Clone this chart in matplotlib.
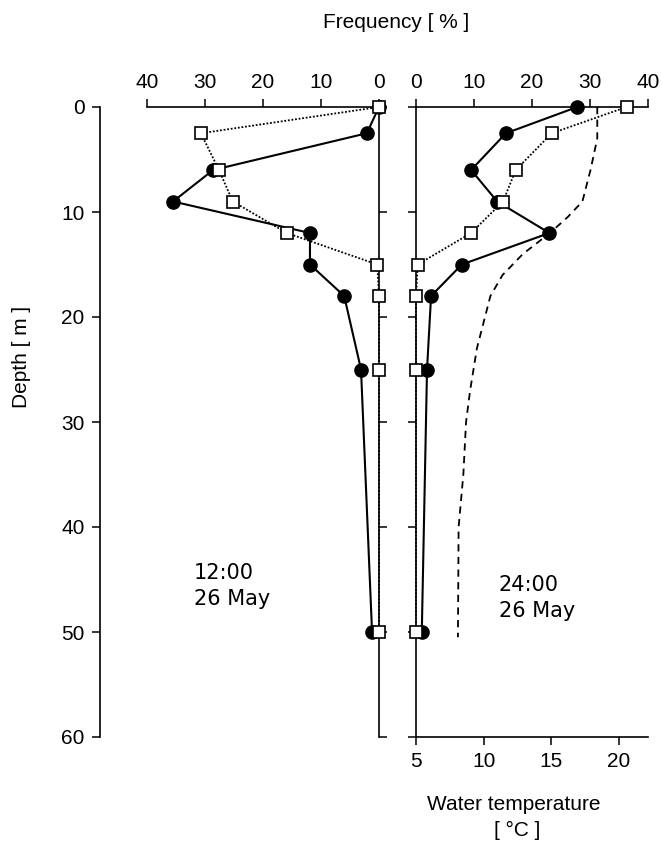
import matplotlib.pyplot as plt
import numpy as np

plt.rcParams['font.family'] = ['Liberation Sans', 'DejaVu Sans']

# sampling depths [m]
depth = [0, 2.5, 6, 9, 12, 15, 18, 25, 50]

# 12:00 26 May, frequency [%]
noon_circle = [0, 2.1, 28.6, 35.5, 11.9, 11.9, 6.0, 3.1, 1.2]
noon_square = [0, 30.7, 27.6, 25.2, 15.9, 0.3, 0, 0, 0]

# 24:00 26 May, frequency [%]
night_circle = [27.8, 15.5, 9.5, 14.0, 23.0, 7.9, 2.6, 1.9, 1.0]
night_square = [36.3, 23.4, 17.2, 15.0, 9.5, 0.3, 0, 0, 0]

# water temperature profile
temp_depth = [0, 3, 6, 9, 10.5, 12, 14, 16, 18, 20, 23, 27, 30, 35, 40, 50.5]
temp = [18.4, 18.4, 17.9, 17.3, 16.2, 14.9, 12.9, 11.4, 10.5, 10.1, 9.5, 9.0, 8.7, 8.5, 8.15, 8.1]

W, H = 662, 841
fig = plt.figure(figsize=(W/100, H/100), dpi=100)

bot = 1 - 737/H
hgt = (737 - 107)/H
axL = fig.add_axes([100/W, bot, 279/W, hgt])
axR = fig.add_axes([416/W, bot, 232/W, hgt])
axT = axR.twiny()

FS = 15
circ = dict(color='black', marker='o', markersize=9.5, linewidth=1.5, clip_on=False, zorder=3)
sq = dict(color='black', marker='s', markersize=8.5, markerfacecolor='white', markeredgewidth=1.2,
          linewidth=1.3, linestyle=(0, (1, 1)), clip_on=False, zorder=4)

# left panel
axL.plot(noon_circle, depth, **circ)
axL.plot(noon_square, depth, **sq)
axL.set_xlim(48.1, 0)
axL.set_ylim(60, 0)
axL.spines['bottom'].set_visible(False)
axL.spines['top'].set_bounds(0, 40)
for s in axL.spines.values():
    s.set_linewidth(1.2)
axL.xaxis.set_ticks_position('top')
axL.set_xticks([40, 30, 20, 10, 0])
axL.set_yticks(range(0, 61, 10))
axL.tick_params(axis='both', direction='out', length=6, width=1.1, labelsize=FS, pad=5)
axL.tick_params(axis='y', right=True, labelright=False)

# right panel
axR.plot(night_circle, depth, **circ)
axR.plot(night_square, depth, **sq)
axR.set_xlim(0, 40)
axR.set_ylim(60, 0)
axR.spines['bottom'].set_visible(False)
axR.spines['right'].set_visible(False)
for s in axR.spines.values():
    s.set_linewidth(1.2)
axR.xaxis.set_ticks_position('top')
axR.xaxis.set_label_position('top')
axR.set_xticks([0, 10, 20, 30, 40])
axR.set_yticks(range(0, 61, 10))
axR.tick_params(axis='both', direction='out', length=6, width=1.1, labelsize=FS, pad=5)
axR.tick_params(axis='x', top=True, labeltop=True, bottom=False, labelbottom=False)
axR.tick_params(axis='y', labelleft=False)

# temperature axis
axT.plot(temp, temp_depth, color='black', linestyle=(0, (4, 3)), linewidth=1.3, zorder=2)
axT.set_xlim(5, 22.15)
axT.set_ylim(60, 0)
axT.xaxis.set_ticks_position('bottom')
axT.xaxis.set_label_position('bottom')
for k in ['top', 'left', 'right']:
    axT.spines[k].set_visible(False)
axT.spines['bottom'].set_linewidth(1.2)
axT.set_xticks([5, 10, 15, 20])
axT.tick_params(axis='x', direction='out', length=6, width=1.1, labelsize=FS, pad=5,
                top=False, labeltop=False)

fig.text(396/W, 1 - 22/H, 'Frequency [ % ]', ha='center', va='center', fontsize=FS)
fig.text(22/W, 1 - 357/H, 'Depth [ m ]', ha='center', va='center', rotation=90, fontsize=FS)
fig.text(514/W, 1 - 805/H, 'Water temperature', ha='center', va='center', fontsize=FS)
fig.text(517/W, 1 - 830/H, '[ °C ]', ha='center', va='center', fontsize=FS)

fig.text(194/W, 1 - 586/H, '12:00\n26 May', ha='left', va='center', fontsize=15,
         family='DejaVu Sans', linespacing=1.35)
fig.text(499/W, 1 - 598/H, '24:00\n26 May', ha='left', va='center', fontsize=15,
         family='DejaVu Sans', linespacing=1.35)

fig.savefig('out.png', dpi=100)
